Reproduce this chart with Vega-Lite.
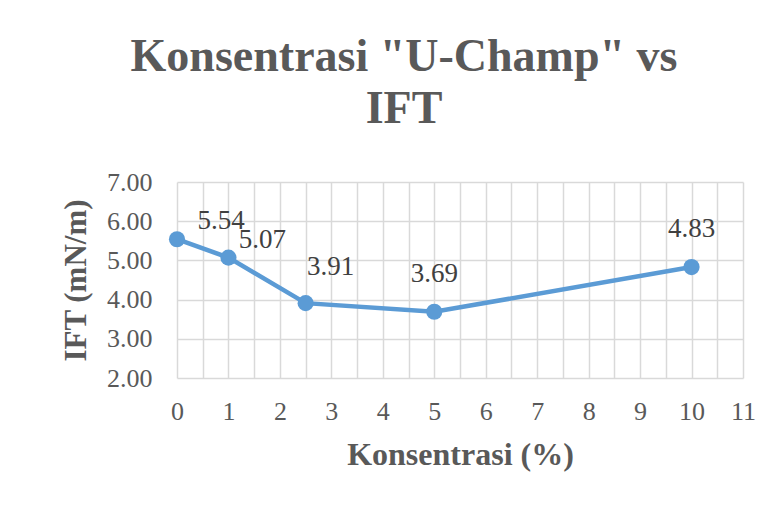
{
  "$schema": "https://vega.github.io/schema/vega-lite/v6.json",
  "autosize": "none",
  "width": 566,
  "height": 196,
  "padding": {"left": 177, "top": 182, "right": 39, "bottom": 134},
  "background": "white",
  "config": {
    "view": {"stroke": null},
    "font": "Liberation Serif"
  },
  "title": {
    "text": ["Konsentrasi \"U-Champ\" vs", "IFT"],
    "font": "Liberation Serif",
    "fontSize": 46,
    "fontWeight": "bold",
    "color": "#595959",
    "lineHeight": 52,
    "anchor": "middle",
    "dx": -56,
    "offset": 36
  },
  "data": {
    "values": [
      {"konsentrasi": 0, "ift": 5.54, "label": "5.54"},
      {"konsentrasi": 1, "ift": 5.07, "label": "5.07"},
      {"konsentrasi": 2.5, "ift": 3.91, "label": "3.91"},
      {"konsentrasi": 5, "ift": 3.69, "label": "3.69"},
      {"konsentrasi": 10, "ift": 4.83, "label": "4.83"}
    ]
  },
  "encoding": {
    "x": {
      "field": "konsentrasi",
      "type": "quantitative",
      "scale": {"domain": [0, 11], "nice": false, "zero": false},
      "axis": {
        "title": "Konsentrasi (%)",
        "values": [0, 0.5, 1, 1.5, 2, 2.5, 3, 3.5, 4, 4.5, 5, 5.5, 6, 6.5, 7, 7.5, 8, 8.5, 9, 9.5, 10, 10.5, 11],
        "labelExpr": "datum.value % 1 === 0 ? format(datum.value, 'd') : ''",
        "grid": true,
        "gridColor": "#d9d9d9",
        "gridWidth": 1.5,
        "ticks": false,
        "domain": false,
        "labelFont": "Liberation Serif",
        "labelFontSize": 26,
        "labelColor": "#595959",
        "labelPadding": 20,
        "labelFlush": false,
        "labelOverlap": false,
        "titleFont": "Liberation Serif",
        "titleFontSize": 32,
        "titleFontWeight": "bold",
        "titleColor": "#595959",
        "titlePadding": 15
      }
    },
    "y": {
      "field": "ift",
      "type": "quantitative",
      "scale": {"domain": [2, 7], "nice": false, "zero": false},
      "axis": {
        "title": "IFT (mN/m)",
        "values": [2, 3, 4, 5, 6, 7],
        "format": ".2f",
        "grid": true,
        "gridColor": "#d9d9d9",
        "gridWidth": 1.5,
        "ticks": false,
        "domain": false,
        "labelFont": "Liberation Serif",
        "labelFontSize": 26,
        "labelColor": "#595959",
        "labelPadding": 25,
        "labelFlush": false,
        "labelOverlap": false,
        "titleFont": "Liberation Serif",
        "titleFontSize": 31,
        "titleFontWeight": "bold",
        "titleColor": "#595959",
        "titlePadding": 14
      }
    }
  },
  "layer": [
    {
      "mark": {"type": "line", "color": "#5B9BD5", "strokeWidth": 4.5}
    },
    {
      "mark": {"type": "point", "filled": true, "opacity": 1, "color": "#5B9BD5", "size": 260}
    },
    {
      "transform": [{"filter": "datum.konsentrasi === 0"}],
      "mark": {"type": "text", "font": "Liberation Serif", "fontSize": 27, "color": "#404040", "dx": 44, "dy": -18},
      "encoding": {"text": {"field": "label"}}
    },
    {
      "transform": [{"filter": "datum.konsentrasi === 1"}],
      "mark": {"type": "text", "font": "Liberation Serif", "fontSize": 27, "color": "#404040", "dx": 34, "dy": -18},
      "encoding": {"text": {"field": "label"}}
    },
    {
      "transform": [{"filter": "datum.konsentrasi === 2.5"}],
      "mark": {"type": "text", "font": "Liberation Serif", "fontSize": 27, "color": "#404040", "dx": 25, "dy": -36},
      "encoding": {"text": {"field": "label"}}
    },
    {
      "transform": [{"filter": "datum.konsentrasi >= 5"}],
      "mark": {"type": "text", "font": "Liberation Serif", "fontSize": 27, "color": "#404040", "dx": 0, "dy": -38},
      "encoding": {"text": {"field": "label"}}
    }
  ]
}
